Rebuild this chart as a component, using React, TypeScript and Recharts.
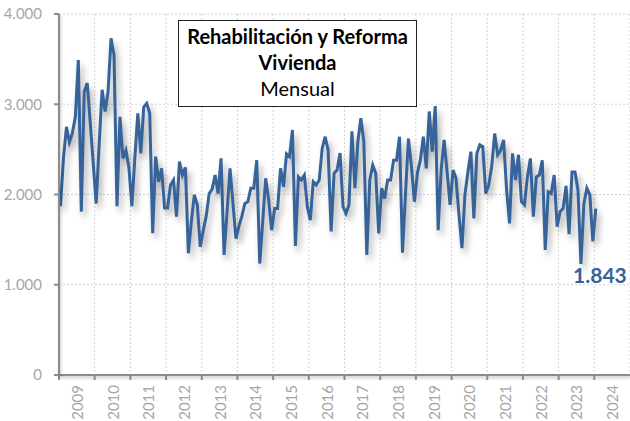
import {CartesianGrid, Line, LineChart, XAxis, YAxis} from "recharts";

// Visados: rehabilitación y reforma de vivienda, mensual (ene 2009 - ene 2024)
const years = ["2009", "2010", "2011", "2012", "2013", "2014", "2015", "2016",
    "2017", "2018", "2019", "2020", "2021", "2022", "2023", "2024"];

const monthly = [
    1870, 2400, 2750, 2580, 2680, 2860, 3490, 1810, 3140, 3235, 2800, 2350,
    1900, 2550, 3160, 2920, 3140, 3730, 3545, 1870, 2860, 2400, 2490, 2300,
    1870, 2400, 2900, 2455, 2970, 3010, 2900, 1570, 2420, 2140, 2290, 1850,
    1850, 2105, 2160, 1755, 2365, 2215, 2300, 1350, 1700, 1995, 1885, 1420,
    1600, 1760, 2010, 2060, 2215, 2010, 2400, 1330, 1800, 2290, 1900, 1510,
    1650, 1760, 1900, 1920, 2070, 2070, 2380, 1235, 1700, 2180, 1940, 1605,
    1845, 1845, 2290, 2085, 2450, 2420, 2715, 1430, 2195, 2160, 2215, 1865,
    1715, 2140, 2105, 2160, 2510, 2640, 2490, 1590, 2235, 2270, 2460, 1865,
    1790, 1885, 2700, 2070, 2585, 2845, 2585, 1330, 2160, 2325, 2235, 1570,
    2070, 1955, 2160, 2160, 2380, 2380, 2640, 1355, 2000, 2620, 2310, 1920,
    2235, 2380, 2640, 2290, 2920, 2475, 2980, 1605, 2270, 2605, 2250, 1885,
    2270, 2180, 1775, 1405, 2000, 2250, 2475, 1735, 2455, 2550, 2530, 2010,
    2105, 2310, 2675, 2440, 2490, 2605, 2050, 1680, 2455, 2160, 2440, 1920,
    1885, 2195, 2400, 1755, 2195, 2215, 2380, 1385, 2030, 2010, 2215, 1645,
    1810, 1845, 2095, 1560, 2250, 2250, 2050, 1230, 1900, 2070, 1995, 1480,
    1843,
];

const yTicks = [0, 1000, 2000, 3000, 4000];

const data = monthly.map((v, i) => ({t: i + 0.5, v}));
const lastIdx = monthly.length - 1;

const W = 630;
const H = 421;
const Y_AXIS_W = 59;
const YEAR_W = (W - Y_AXIS_W) / years.length;
const BLUE = "#35639a";
const FONT = "Lato, 'Open Sans', sans-serif";

const fmt = (v: number) => String(v).replace(/\B(?=(\d{3})+(?!\d))/g, ".");

const YearTick = ({x, payload}: any) => {
    const label = years[Math.round(payload.value / 12)];
    if (!label) return null;
    return (
        <text
            transform={`translate(${x + YEAR_W / 2},385) rotate(-90)`}
            textAnchor="end"
            dominantBaseline="central"
            fill="#a6a6a6"
            fontSize={15}
            fontFamily={FONT}
        >
            {label}
        </text>
    );
};

const LastLabel = ({x, y, index, value}: any) => {
    if (index !== lastIdx) return null;
    return (
        <text x={x + 31} y={y + 74} textAnchor="end" fill={BLUE}
              fontSize={21} fontWeight="bold" fontFamily={FONT}>
            {fmt(value)}
        </text>
    );
};

export default function App() {
    return (
        <div style={{position: "absolute", left: 0, top: 0, width: W, height: H, background: "#fff", fontFamily: FONT}}>
            <style>{`
                .recharts-line-curve { filter: drop-shadow(3px 5px 3px rgba(0,0,0,0.32)); }
                .recharts-cartesian-axis-line { filter: drop-shadow(1px 2px 1.5px rgba(0,0,0,0.25)); }
            `}</style>
            <LineChart width={W} height={H} data={data} margin={{top: 14, right: 0, bottom: 0, left: 0}}>
                <CartesianGrid stroke="#d2d2d2" strokeDasharray="2 2"/>
                <XAxis
                    type="number"
                    dataKey="t"
                    domain={[0, years.length * 12]}
                    ticks={years.map((_, i) => i * 12)}
                    interval={0}
                    height={46}
                    axisLine={{stroke: "#8c8c8c", strokeWidth: 2}}
                    tickLine={{stroke: "#8c8c8c", strokeWidth: 2}}
                    tickSize={5}
                    tick={<YearTick/>}
                />
                <YAxis
                    domain={[0, 4000]}
                    ticks={yTicks}
                    interval={0}
                    width={Y_AXIS_W}
                    axisLine={{stroke: "#8c8c8c", strokeWidth: 2}}
                    tickLine={{stroke: "#8c8c8c", strokeWidth: 2}}
                    tickSize={5}
                    tickMargin={12}
                    tickFormatter={fmt}
                    tick={{fill: "#a6a6a6", fontSize: 15, fontFamily: FONT}}
                />
                <Line
                    type="linear"
                    dataKey="v"
                    stroke={BLUE}
                    strokeWidth={3}
                    dot={false}
                    isAnimationActive={false}
                    label={<LastLabel/>}
                />
            </LineChart>
            <div style={{
                position: "absolute", left: 178, top: 20, width: 239, height: 87,
                boxSizing: "border-box", border: "1.5px solid #222", background: "#fff",
                textAlign: "center", fontSize: 20, lineHeight: "26px", paddingTop: 2, color: "#000",
            }}>
                <div style={{fontWeight: "bold"}}>Rehabilitación y Reforma</div>
                <div style={{fontWeight: "bold"}}>Vivienda</div>
                <div>Mensual</div>
            </div>
        </div>
    );
}
